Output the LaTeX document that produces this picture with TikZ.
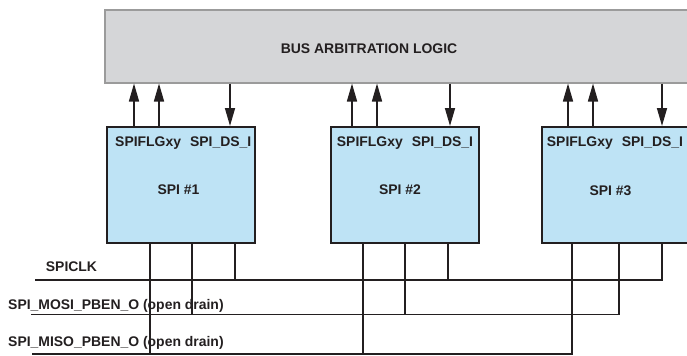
\documentclass[tikz,border=0pt]{standalone}
\usepackage{fontspec}
\setmainfont{Liberation Sans}
\usetikzlibrary{arrows.meta,calc}
\definecolor{busfill}{HTML}{D5D6D8}
\definecolor{busdraw}{HTML}{9B9B9B}
\definecolor{spifill}{HTML}{BEE3F5}
\definecolor{ink}{HTML}{231F20}
\begin{document}
\begin{tikzpicture}[x=1bp,y=-1bp,
  font=\fontsize{14}{16}\selectfont\bfseries,
  every node/.style={text=ink},
  busbox/.style={draw=busdraw, fill=busfill, line width=1.5bp, minimum width=620bp, minimum height=73bp, anchor=north west, inner sep=0pt},
  spibox/.style={draw=ink, fill=spifill, line width=1.5bp, minimum width=148bp, minimum height=116bp, anchor=north west, inner sep=0pt},
  lbl/.style={inner sep=0pt, anchor=base west},
  clbl/.style={inner sep=0pt, anchor=base},
  wire/.style={draw=ink, line width=1.6bp},
  sig/.style={wire, -{Triangle[length=18bp,width=10bp]}}]
\clip (0,0) rectangle (687,355);
% boxes
\node[busbox] (bus) at (104,9) {};
\node[clbl] (bustxt) at (369,53) {BUS ARBITRATION LOGIC};
\node[spibox] (spi1) at (106,126) {};
\node[spibox] (spi2) at (330,126) {};
\node[spibox] (spi3) at (541,126) {};
\node[lbl] (p1) at (115,146.7) {SPIFLGxy\hspace{9bp}SPI\_DS\_I};
\node[lbl] (p2) at (336.7,146.7) {SPIFLGxy\hspace{9bp}SPI\_DS\_I};
\node[lbl] (p3) at (546.7,146.7) {SPIFLGxy\hspace{9bp}SPI\_DS\_I};
\node[clbl] (n1) at (178.5,194) {SPI \#1};
\node[clbl] (n2) at (400,194) {SPI \#2};
\node[clbl] (n3) at (610.5,195) {SPI \#3};
% arrows to/from bus
\draw[sig] ([xshift=28bp]spi1.north west) -- ([xshift=28bp]spi1.north west |- bus.south);
\draw[sig] ([xshift=53bp]spi1.north west) -- ([xshift=53bp]spi1.north west |- bus.south);
\draw[sig] ([xshift=124bp]spi1.north west |- bus.south) -- ([xshift=124bp]spi1.north west);
\draw[sig] ([xshift=22bp]spi2.north west) -- ([xshift=22bp]spi2.north west |- bus.south);
\draw[sig] ([xshift=47bp]spi2.north west) -- ([xshift=47bp]spi2.north west |- bus.south);
\draw[sig] ([xshift=120bp]spi2.north west |- bus.south) -- ([xshift=120bp]spi2.north west);
\draw[sig] ([xshift=27bp]spi3.north west) -- ([xshift=27bp]spi3.north west |- bus.south);
\draw[sig] ([xshift=52bp]spi3.north west) -- ([xshift=52bp]spi3.north west |- bus.south);
\draw[sig] ([xshift=121bp]spi3.north west |- bus.south) -- ([xshift=121bp]spi3.north west);
% bottom signal lines
\coordinate (clkL) at (35,280);
\coordinate (mosiL) at (31,314.3);
\coordinate (misoL) at (32,353.7);
\draw[wire] ([xshift=121bp]spi3.south west) |- (clkL);
\draw[wire] ([xshift=78bp]spi3.south west) |- (mosiL);
\draw[wire] ([xshift=31bp]spi3.south west) |- (misoL);
\draw[wire] ([xshift=129bp]spi1.south west) -- ([xshift=129bp]spi1.south west |- clkL);
\draw[wire] ([xshift=86bp]spi1.south west) -- ([xshift=86bp]spi1.south west |- mosiL);
\draw[wire] ([xshift=44bp]spi1.south west) -- ([xshift=44bp]spi1.south west |- misoL);
\draw[wire] ([xshift=118bp]spi2.south west) -- ([xshift=118bp]spi2.south west |- clkL);
\draw[wire] ([xshift=75bp]spi2.south west) -- ([xshift=75bp]spi2.south west |- mosiL);
\draw[wire] ([xshift=33bp]spi2.south west) -- ([xshift=33bp]spi2.south west |- misoL);
% labels
\node[lbl] (clk) at (45.7,271) {SPICLK};
\node[lbl] (mosi) at (8,309) {SPI\_MOSI\_PBEN\_O (open drain)};
\node[lbl] (miso) at (8,346.7) {SPI\_MISO\_PBEN\_O (open drain)};
\end{tikzpicture}
\end{document}
